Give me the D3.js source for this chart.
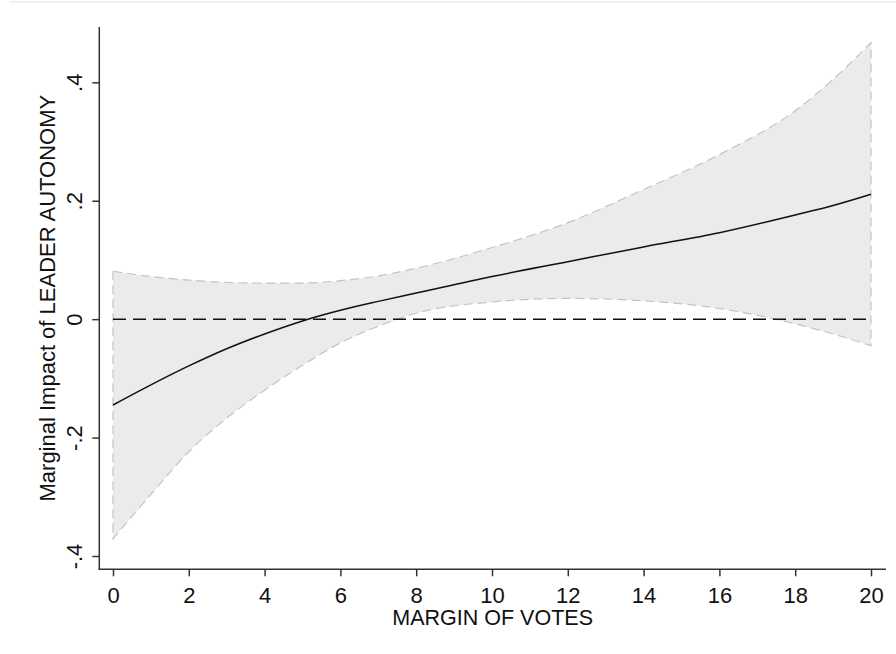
<!DOCTYPE html>
<html>
<head>
<meta charset="utf-8">
<script src="https://cdn.jsdelivr.net/npm/d3@7"></script>
<style>
  html, body { margin: 0; padding: 0; background: #fff; }
  svg { display: block; }
  text { font-family: "Liberation Sans", Arial, sans-serif; fill: #111; }
</style>
</head>
<body>
<svg id="chart" width="896" height="654"></svg>
<script>
// Margin of votes at which the marginal effect was evaluated
const margin = [0, 1, 2, 3, 4, 5, 6, 7, 8, 10, 12, 14, 16, 18, 19, 20];
// Marginal impact of leader autonomy (point estimate)
const effect = [-0.145, -0.111, -0.079, -0.050, -0.025, -0.003, 0.015, 0.030, 0.044, 0.072, 0.097, 0.122, 0.146, 0.176, 0.192, 0.211];
// Confidence interval bounds
const upper = [0.081, 0.072, 0.066, 0.062, 0.061, 0.061, 0.065, 0.073, 0.086, 0.121, 0.163, 0.219, 0.278, 0.352, 0.405, 0.467];
const lower = [-0.371, -0.296, -0.224, -0.167, -0.120, -0.078, -0.040, -0.012, 0.010, 0.029, 0.035, 0.031, 0.018, -0.008, -0.025, -0.045];

const xTicks = [0, 2, 4, 6, 8, 10, 12, 14, 16, 18, 20];
const yTicks = [-0.4, -0.2, 0, 0.2, 0.4];
const yTickLabels = ["-.4", "-.2", "0", ".2", ".4"];

const svg = d3.select("#chart");

// faint frame line along the top
svg.append("line")
  .attr("x1", 10).attr("x2", 896).attr("y1", 2).attr("y2", 2)
  .attr("stroke", "#e6edf2").attr("stroke-width", 1.5);

const x = d3.scaleLinear().domain([0, 20]).range([113, 871]);
const y = d3.scaleLinear().domain([-0.4, 0.4]).range([556, 82.3]);

const rows = margin.map((m, i) => ({ m, e: effect[i], hi: upper[i], lo: lower[i] }));

// confidence band as a closed polygon with dashed outline
const upperPts = rows.map(d => [x(d.m), y(d.hi)]);
const lowerPts = rows.map(d => [x(d.m), y(d.lo)]).reverse();
const smooth = d3.line().curve(d3.curveMonotoneX);
const bandPath = smooth(upperPts) + "L" + smooth(lowerPts).slice(1) + "Z";
svg.append("path")
  .attr("d", bandPath)
  .attr("fill", "#ebebeb")
  .attr("stroke", "#c4c4c4")
  .attr("stroke-width", 1.2)
  .attr("stroke-dasharray", "9,5");

// reference line at zero
svg.append("line")
  .attr("x1", x(0)).attr("x2", x(20))
  .attr("y1", y(0)).attr("y2", y(0))
  .attr("stroke", "#111").attr("stroke-width", 1.5)
  .attr("stroke-dasharray", "13,7");

// point estimate
svg.append("path")
  .datum(rows)
  .attr("d", d3.line().x(d => x(d.m)).y(d => y(d.e)).curve(d3.curveMonotoneX))
  .attr("fill", "none")
  .attr("stroke", "#111")
  .attr("stroke-width", 1.5);

// axes
const axisColor = "#333";
const xAxisY = 569.3, yAxisX = 99.3;

const xAxis = svg.append("g").attr("transform", `translate(0,${xAxisY})`)
  .call(d3.axisBottom(x).tickValues(xTicks).tickSize(7).tickSizeOuter(0).tickPadding(12));
xAxis.select(".domain").remove();
xAxis.append("line").attr("x1", yAxisX - 0.7).attr("x2", 886).attr("y1", 0).attr("y2", 0)
  .attr("stroke", axisColor).attr("stroke-width", 1.5);
xAxis.selectAll(".tick line").attr("stroke", axisColor).attr("stroke-width", 1.5);
xAxis.selectAll(".tick text")
  .attr("dy", null).attr("y", 34)
  .style("font-size", "22px").style("font-family", "Liberation Sans, Arial, sans-serif").attr("fill", "#111");

const yAxis = svg.append("g").attr("transform", `translate(${yAxisX},0)`)
  .call(d3.axisLeft(y).tickValues(yTicks).tickSize(7).tickSizeOuter(0)
    .tickFormat((d, i) => yTickLabels[i]));
yAxis.select(".domain").remove();
yAxis.append("line").attr("x1", 0).attr("x2", 0).attr("y1", 27).attr("y2", xAxisY + 0.7)
  .attr("stroke", axisColor).attr("stroke-width", 1.5);
yAxis.selectAll(".tick line").attr("stroke", axisColor).attr("stroke-width", 1.5);
yAxis.selectAll(".tick text")
  .attr("x", null).attr("dy", null)
  .attr("text-anchor", "middle")
  .attr("transform", "translate(-17,0) rotate(-90)")
  .style("font-size", "22px").style("font-family", "Liberation Sans, Arial, sans-serif").attr("fill", "#111");

// axis titles
svg.append("text")
  .attr("x", (yAxisX + 886) / 2).attr("y", 625)
  .attr("text-anchor", "middle")
  .style("font-size", "21.5px")
  .text("MARGIN OF VOTES");

svg.append("text")
  .attr("transform", `translate(55,${(27 + xAxisY) / 2}) rotate(-90)`)
  .attr("text-anchor", "middle")
  .style("font-size", "22px")
  .text("Marginal Impact of LEADER AUTONOMY");
</script>
</body>
</html>
